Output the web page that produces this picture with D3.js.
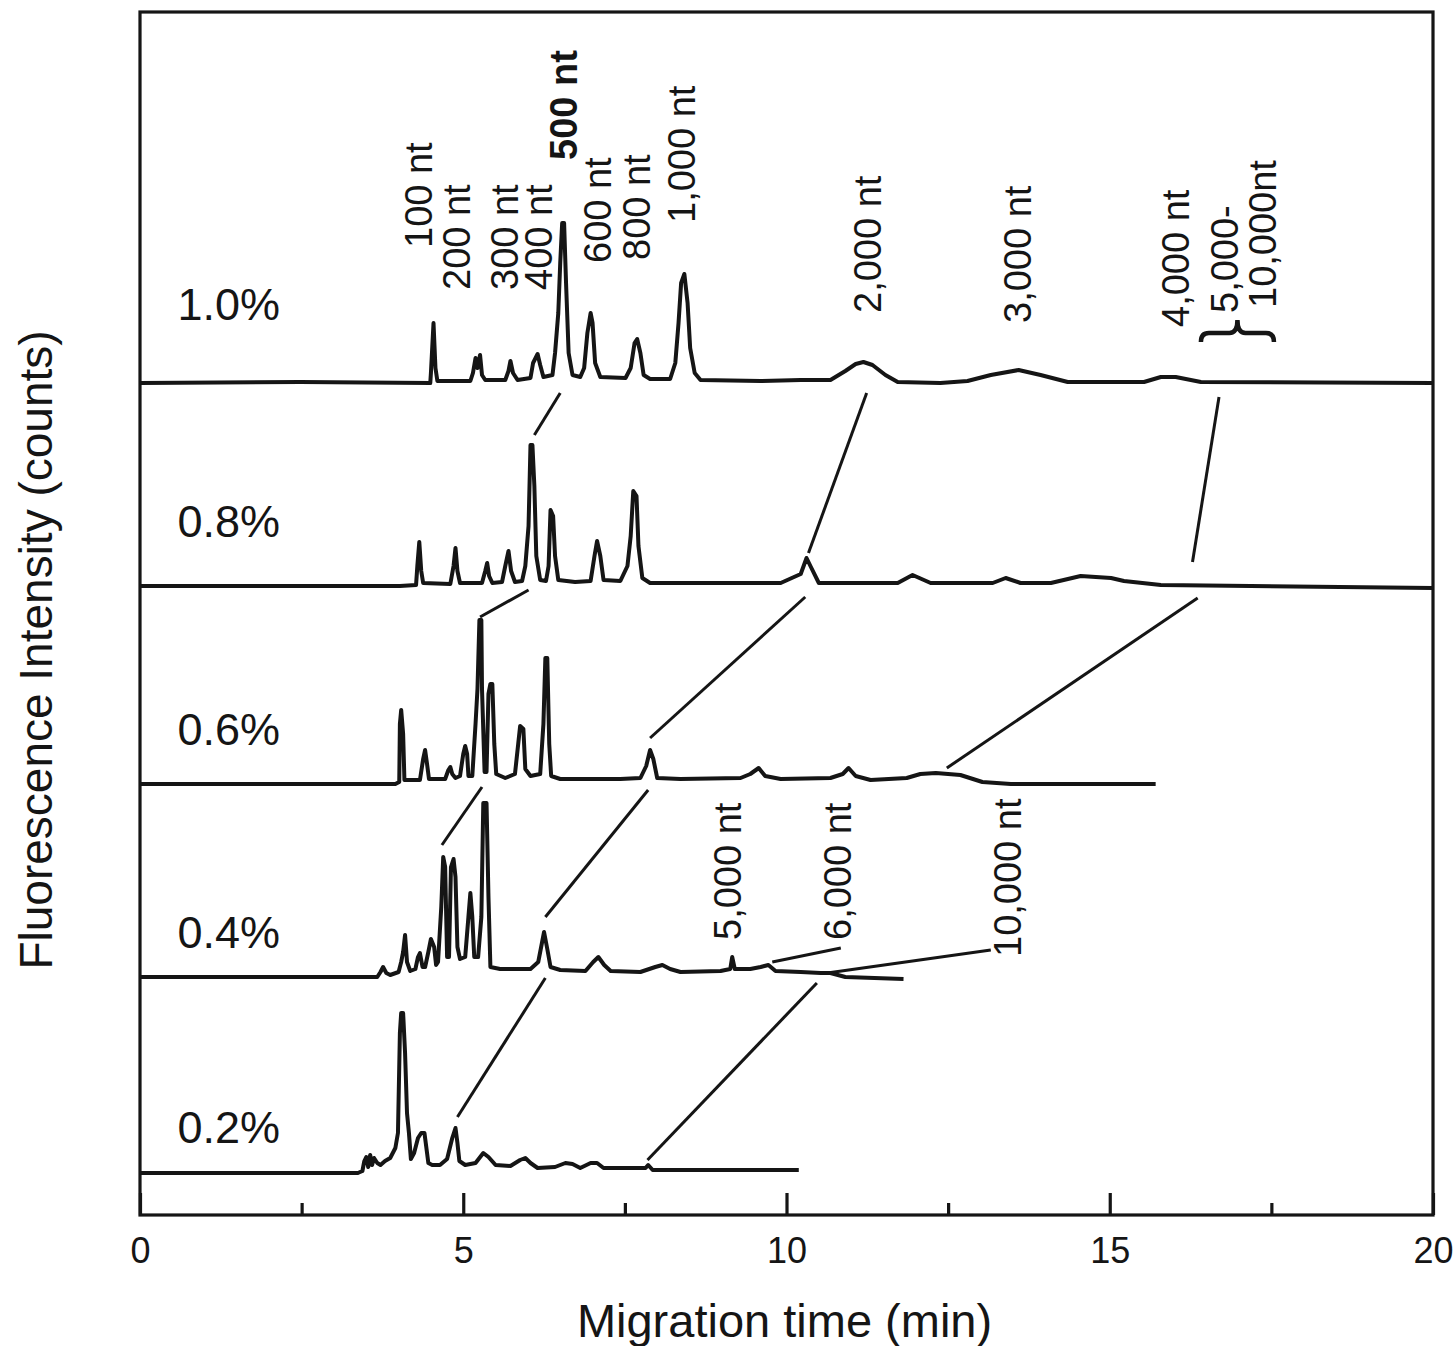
<!DOCTYPE html>
<html lang="en">
<head>
<meta charset="UTF-8">
<title>Migration time vs fluorescence</title>
<script src="https://cdn.jsdelivr.net/npm/d3@7"></script>
<style>
  body { margin: 0; background: #fff; }
  text { font-family: "Liberation Sans", Arial, sans-serif; fill: #151515; }
</style>
</head>
<body>
<svg width="1455" height="1346"></svg>
<script>
  // gel concentrations, top trace first
  const concentrations = ['1.0%', '0.8%', '0.6%', '0.4%', '0.2%']
  // vertical offset (counts) of every trace baseline
  const baselineOffsets = [8320, 6290, 4310, 2380, 420]
  // where the % label sits (counts)
  const concLabelLevels = [8950, 6780, 4700, 2670, 720]

  // [migration time (min), intensity above baseline (counts)]
  const trace10 = [[0,0],[2.48,10],[4.49,0],[4.50,100],[4.54,600],[4.57,150],[4.60,20],[5.11,20],[5.15,100],[5.19,250],[5.22,150],[5.26,280],[5.29,80],[5.34,30],[5.65,30],[5.70,120],[5.73,220],[5.77,100],[5.84,30],[6.04,50],[6.08,200],[6.15,290],[6.19,180],[6.24,60],[6.38,80],[6.42,300],[6.47,700],[6.50,1200],[6.53,1600],[6.56,1600],[6.59,1000],[6.63,300],[6.69,80],[6.81,60],[6.87,150],[6.92,500],[6.97,700],[7.00,600],[7.04,200],[7.12,60],[7.51,50],[7.59,150],[7.65,400],[7.69,440],[7.74,300],[7.79,80],[7.89,40],[8.20,40],[8.28,200],[8.33,600],[8.37,1000],[8.42,1090],[8.47,800],[8.51,350],[8.58,100],[8.67,30],[9.60,20],[10.22,30],[10.68,30],[10.91,120],[11.07,190],[11.19,210],[11.33,180],[11.53,80],[11.72,10],[12.38,0],[12.80,20],[13.16,80],[13.59,130],[13.93,80],[14.35,10],[15.53,10],[15.79,60],[16.02,60],[16.41,10],[20,0]]
  const trace08 = [[0,0],[4.02,0],[4.27,10],[4.29,200],[4.32,440],[4.35,150],[4.38,30],[4.80,20],[4.85,200],[4.88,380],[4.91,150],[4.95,30],[5.29,30],[5.34,150],[5.37,230],[5.40,100],[5.45,30],[5.60,40],[5.65,200],[5.70,350],[5.74,150],[5.80,40],[5.91,50],[5.96,200],[6.01,600],[6.04,1410],[6.07,1410],[6.10,1000],[6.13,300],[6.19,60],[6.28,50],[6.32,200],[6.35,760],[6.39,700],[6.42,300],[6.47,60],[6.73,40],[6.97,50],[7.03,300],[7.07,450],[7.12,300],[7.17,60],[7.43,50],[7.54,200],[7.59,500],[7.63,950],[7.68,900],[7.71,400],[7.77,80],[7.89,30],[8.67,30],[9.91,30],[10.22,120],[10.31,280],[10.37,200],[10.50,30],[11.72,30],[11.95,110],[12.23,30],[13.19,30],[13.39,80],[13.62,30],[14.09,30],[14.55,100],[15.02,80],[15.22,50],[15.79,10],[17.18,0],[20,-20]]
  const trace06 = [[0,0],[3.95,0],[4.01,20],[4.02,600],[4.04,740],[4.07,500],[4.09,40],[4.33,40],[4.38,250],[4.41,340],[4.44,200],[4.47,50],[4.72,50],[4.77,140],[4.80,170],[4.83,100],[4.88,60],[4.95,80],[5.00,300],[5.03,380],[5.06,300],[5.08,80],[5.14,80],[5.19,600],[5.22,950],[5.25,1640],[5.28,1640],[5.29,950],[5.33,120],[5.36,120],[5.39,900],[5.42,1000],[5.45,1000],[5.48,400],[5.51,100],[5.65,60],[5.80,100],[5.85,400],[5.88,580],[5.93,550],[5.96,150],[6.04,80],[6.19,100],[6.24,600],[6.27,1260],[6.30,1260],[6.33,400],[6.36,80],[6.50,50],[7.43,50],[7.74,60],[7.83,180],[7.89,340],[7.94,250],[8.00,60],[8.36,50],[9.29,60],[9.44,100],[9.57,160],[9.67,80],[9.91,50],[10.68,60],[10.87,100],[10.96,160],[11.07,80],[11.30,40],[11.86,60],[12.07,100],[12.31,110],[12.69,90],[13.03,20],[13.47,0],[15.71,0]]
  const trace04 = [[0,0],[3.67,0],[3.72,50],[3.76,100],[3.81,40],[3.87,20],[4.00,50],[4.04,150],[4.07,250],[4.10,420],[4.13,150],[4.18,60],[4.26,80],[4.30,200],[4.33,240],[4.37,100],[4.41,100],[4.46,250],[4.50,380],[4.55,300],[4.58,120],[4.61,150],[4.66,700],[4.69,1200],[4.72,1100],[4.75,200],[4.78,200],[4.81,1100],[4.85,1180],[4.88,1000],[4.91,300],[4.95,180],[5.03,200],[5.08,600],[5.11,840],[5.14,600],[5.17,200],[5.23,200],[5.28,600],[5.31,1740],[5.36,1740],[5.39,800],[5.42,100],[5.57,80],[6.04,80],[6.16,150],[6.22,350],[6.25,450],[6.30,280],[6.35,100],[6.50,70],[6.89,60],[7.01,150],[7.09,200],[7.18,120],[7.28,60],[7.74,50],[7.97,100],[8.08,120],[8.20,80],[8.36,50],[8.98,60],[9.13,80],[9.16,200],[9.20,80],[9.44,80],[9.60,100],[9.72,120],[9.83,60],[10.22,50],[10.53,40],[10.68,40],[10.91,0],[11.81,-20]]
  const trace02 = [[0,0],[3.37,0],[3.44,20],[3.47,120],[3.50,160],[3.53,60],[3.56,180],[3.59,80],[3.62,150],[3.67,100],[3.72,80],[3.79,120],[3.87,150],[3.95,250],[3.99,400],[4.02,1400],[4.04,1600],[4.07,1600],[4.10,1200],[4.13,600],[4.16,400],[4.19,140],[4.24,200],[4.30,350],[4.35,400],[4.40,400],[4.43,250],[4.46,100],[4.52,80],[4.64,80],[4.75,140],[4.83,350],[4.88,450],[4.91,300],[4.94,120],[5.03,80],[5.19,100],[5.31,200],[5.39,160],[5.50,80],[5.73,70],[5.88,130],[5.96,150],[6.04,100],[6.15,50],[6.42,60],[6.58,100],[6.69,90],[6.81,50],[6.97,100],[7.07,100],[7.17,50],[7.82,50],[7.86,80],[7.93,30],[8.67,30],[10.19,30]]
  const traces = [trace10, trace08, trace06, trace04, trace02]

  // size-marker labels: text, time of right (baseline) edge, level of lower end, bold
  const markerTexts = ['100 nt', '200 nt', '300 nt', '400 nt', '500 nt', '600 nt', '800 nt', '1,000 nt', '2,000 nt', '3,000 nt', '4,000 nt', '5,000-', '10,000nt', '5,000 nt', '6,000 nt', '10,000 nt']
  const markerTimes = [4.52, 5.11, 5.84, 6.38, 6.76, 7.28, 7.89, 8.59, 11.46, 13.78, 16.22, 16.98, 17.57, 9.29, 10.99, 13.62]
  const markerLevels = [9670, 9250, 9250, 9250, 10550, 9520, 9550, 9920, 9020, 8920, 8880, 9020, 9070, 2750, 2750, 2580]
  const markerBold = ['500 nt']

  // guide lines linking the same fragment between traces: [t1, v1, t2, v2]
  const guideLines = [
    [6.50, 8220, 6.10, 7800],
    [6.01, 6250, 5.26, 5980],
    [11.24, 8220, 10.34, 6620],
    [16.69, 8180, 16.28, 6530],
    [10.29, 6180, 7.89, 4770],
    [16.36, 6170, 12.48, 4470],
    [5.29, 4280, 4.67, 3700],
    [7.86, 4250, 6.27, 2980],
    [6.27, 2370, 4.91, 980],
    [10.47, 2320, 7.85, 550],
    [9.78, 2530, 10.84, 2670],
    [10.63, 2420, 13.16, 2650]
  ]
  // brace under "5,000-10,000nt": [t start, t end, level of ends, level of tip]
  const brace = [16.41, 17.54, 8730, 8950]

  const majorTicks = [0, 5, 10, 15, 20]
  const minorTicks = [2.5, 7.5, 12.5, 17.5]

  const svg = d3.select('svg')

  const xScale = d3.scaleLinear().domain([0, 20]).range([140, 1433])
  const yScale = d3.scaleLinear().domain([0, 12030]).range([1215, 12])

  // frame
  svg.append('rect')
    .attr('x', xScale(0))
    .attr('y', yScale(12030))
    .attr('width', xScale(20) - xScale(0))
    .attr('height', yScale(0) - yScale(12030))
    .attr('fill', 'none')
    .attr('stroke', '#151515')
    .attr('stroke-width', 3.2)

  // x axis, ticks pointing inward
  const xAxis = svg.append('g')
    .attr('transform', `translate(0,${yScale(0)})`)
    .call(d3.axisBottom(xScale).tickValues(majorTicks).tickSize(-22).tickSizeOuter(0).tickPadding(22))
  xAxis.select('.domain').remove()
  xAxis.selectAll('line').attr('stroke', '#151515').attr('stroke-width', 3.2)
  xAxis.selectAll('text').attr('font-size', '36px').attr('font-family', '"Liberation Sans", Arial, sans-serif').attr('fill', '#151515')

  const xMinor = svg.append('g')
    .attr('transform', `translate(0,${yScale(0)})`)
    .call(d3.axisBottom(xScale).tickValues(minorTicks).tickSize(-12).tickSizeOuter(0).tickFormat(''))
  xMinor.select('.domain').remove()
  xMinor.selectAll('line').attr('stroke', '#151515').attr('stroke-width', 3.2)

  // guide lines
  svg.append('g')
    .selectAll('line')
    .data(guideLines)
    .join('line')
    .attr('x1', d => xScale(d[0]))
    .attr('y1', d => yScale(d[1]))
    .attr('x2', d => xScale(d[2]))
    .attr('y2', d => yScale(d[3]))
    .attr('stroke', '#151515')
    .attr('stroke-width', 3)

  // electropherograms
  traces.forEach((tr, i) => {
    const line = d3.line()
      .x(d => xScale(d[0]))
      .y(d => yScale(baselineOffsets[i] + d[1]))
    svg.append('path')
      .datum(tr)
      .attr('d', line)
      .attr('fill', 'none')
      .attr('stroke', '#151515')
      .attr('stroke-width', 4)
      .attr('stroke-linejoin', 'round')
  })

  // concentration labels
  svg.append('g')
    .selectAll('text')
    .data(concentrations)
    .join('text')
    .attr('x', xScale(0.58))
    .attr('y', (d, i) => yScale(concLabelLevels[i]))
    .attr('font-size', '45px')
    .text(d => d)

  // fragment size labels (rotated)
  svg.append('g')
    .selectAll('text')
    .data(markerTexts)
    .join('text')
    .attr('transform', (d, i) => `translate(${xScale(markerTimes[i])},${yScale(markerLevels[i])}) rotate(-90)`)
    .attr('font-size', '38px')
    .attr('font-weight', d => markerBold.includes(d) ? 'bold' : 'normal')
    .text(d => d)

  // curly brace
  const bx1 = xScale(brace[0]), bx2 = xScale(brace[1]), bxm = (bx1 + bx2) / 2
  const by0 = yScale(brace[2]), byt = yScale(brace[3]), bym = (by0 + byt) / 2 + 2
  svg.append('path')
    .attr('d', `M${bx1},${by0} Q${bx1},${bym} ${bx1 + 8},${bym} L${bxm - 8},${bym} Q${bxm},${bym} ${bxm},${byt} Q${bxm},${bym} ${bxm + 8},${bym} L${bx2 - 8},${bym} Q${bx2},${bym} ${bx2},${by0}`)
    .attr('fill', 'none')
    .attr('stroke', '#151515')
    .attr('stroke-width', 4.5)

  // axis titles
  svg.append('text')
    .attr('x', (xScale(0) + xScale(20)) / 2 - 2)
    .attr('y', 1337)
    .attr('text-anchor', 'middle')
    .attr('font-size', '47px')
    .text('Migration time (min)')

  svg.append('text')
    .attr('transform', `translate(52,${yScale(5650)}) rotate(-90)`)
    .attr('text-anchor', 'middle')
    .attr('font-size', '46px')
    .text('Fluorescence Intensity (counts)')
</script>
</body>
</html>
